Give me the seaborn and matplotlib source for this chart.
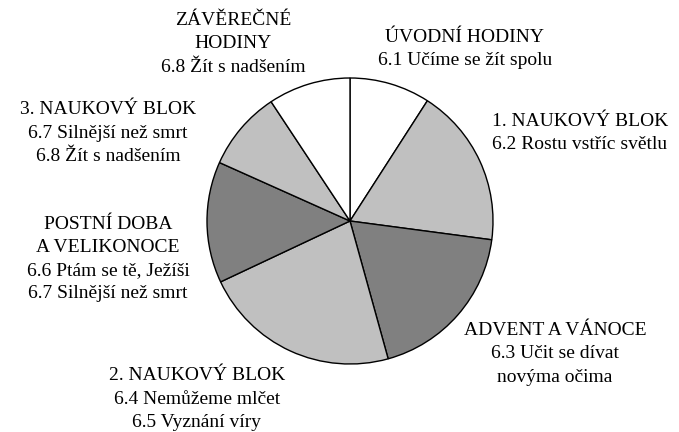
import matplotlib
matplotlib.use("Agg")
import matplotlib.pyplot as plt
import seaborn as sns

# share of teaching hours per block (in %)
blocks = ["ÚVODNÍ HODINY", "1. NAUKOVÝ BLOK", "ADVENT A VÁNOCE", "2. NAUKOVÝ BLOK",
          "POSTNÍ DOBA\nA VELIKONOCE", "3. NAUKOVÝ BLOK", "ZÁVĚREČNÉ\nHODINY"]
topics = ["6.1 Učíme se žít spolu",
          "6.2 Rostu vstříc světlu",
          "6.3 Učit se dívat\nnovýma očima",
          "6.4 Nemůžeme mlčet\n6.5 Vyznání víry",
          "6.6 Ptám se tě, Ježíši\n6.7 Silnější než smrt",
          "6.7 Silnější než smrt\n6.8 Žít s nadšením",
          "6.8 Žít s nadšením"]
shares = [9.1, 18.0, 18.6, 22.3, 13.7, 9.0, 9.3]

sns.set_theme(style="white")
plt.rcParams["font.family"] = ["Liberation Serif", "DejaVu Serif"]

colors = ["white", "#c0c0c0", "#808080", "#c0c0c0", "#808080", "#c0c0c0", "white"]

fig = plt.figure(figsize=(6.79, 4.32), dpi=100)
ax = fig.add_axes([0, 0, 1, 1])
ax.pie(shares, colors=colors, startangle=90, counterclock=False, radius=1,
       wedgeprops=dict(edgecolor="black", linewidth=1.0))

# label anchors in pixel coords of the original picture (center 350,221, r=143)
label_px = [(465, 49), (580, 133), (555, 354), (197, 399),
            (108, 259), (108, 133), (233, 44)]
for (px, py), b, t in zip(label_px, blocks, topics):
    ax.text((px - 350) / 143, (221 - py) / 143, b + "\n" + t,
            ha="center", va="center", multialignment="center",
            fontsize=14, linespacing=1.48, color="black")

ax.set_xlim(-350 / 143, (679 - 350) / 143)
ax.set_ylim(-(432 - 221) / 143, 221 / 143)
ax.set_aspect("equal")
ax.axis("off")
fig.savefig("out.png", dpi=100)
